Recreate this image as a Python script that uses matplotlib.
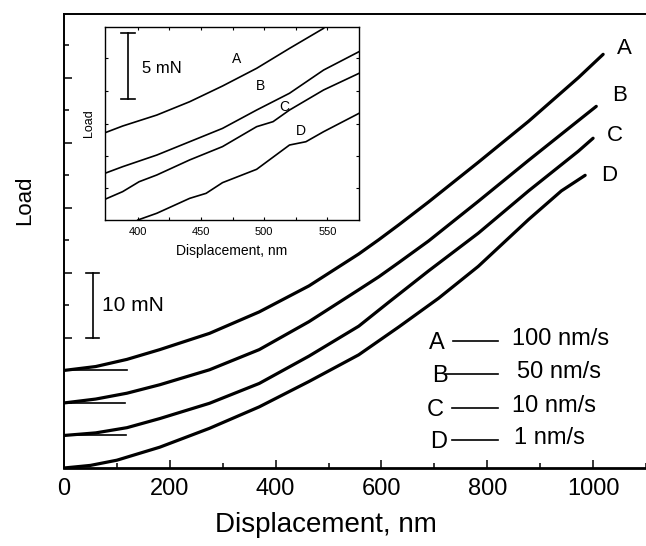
import matplotlib
matplotlib.use("Agg")
import matplotlib.pyplot as plt

plt.rcParams['font.family'] = ['Liberation Sans', 'DejaVu Sans']

# ---- main chart data (Displacement nm, Load mN, curves offset for clarity) ----
a_x = [0, 60, 119, 181, 275, 369, 463, 557, 595, 633, 689, 783, 878, 972, 1019]
a_y = [15, 15.6, 16.7, 18.2, 20.7, 24.0, 28.0, 32.9, 35.1, 37.4, 40.9, 47.0, 53.3, 60.0, 63.6]
b_x = [0, 60, 119, 181, 275, 369, 463, 557, 595, 633, 689, 783, 878, 972, 1006]
b_y = [10, 10.6, 11.5, 12.8, 15.1, 18.2, 22.5, 27.4, 29.4, 31.6, 34.9, 41.0, 47.3, 53.4, 55.6]
c_x = [0, 60, 119, 181, 275, 369, 463, 557, 614, 689, 783, 878, 972, 1000]
c_y = [5, 5.4, 6.2, 7.6, 9.95, 13.0, 17.2, 21.8, 25.5, 30.3, 36.1, 42.6, 48.7, 50.7]
d_x = [0, 50, 100, 181, 275, 369, 463, 557, 633, 708, 783, 878, 940, 985]
d_y = [0, 0.4, 1.2, 3.2, 6.1, 9.4, 13.3, 17.4, 21.7, 26.1, 31.0, 38.2, 42.6, 45.0]
curve_names = ['A', 'B', 'C', 'D']
rates = ['100 nm/s', '50 nm/s', '10 nm/s', '1 nm/s']
base_levels = [15, 10, 5]
base_ends = [120, 115, 118]

# ---- inset data ----
ia_x = [374, 388, 415, 441, 467, 494, 520, 547]
ia_y = [6.61, 7.12, 7.95, 8.96, 10.15, 11.49, 13.0, 14.52]
ib_x = [374, 388, 415, 441, 467, 494, 520, 547, 575]
ib_y = [3.54, 4.04, 4.92, 5.93, 6.94, 8.33, 9.60, 11.36, 12.75]
ic_x = [374, 388, 401, 415, 441, 467, 494, 507, 520, 547, 575]
ic_y = [1.57, 2.15, 2.90, 3.41, 4.55, 5.56, 7.07, 7.45, 8.33, 9.85, 11.11]
id_x = [400, 415, 441, 454, 467, 494, 520, 533, 547, 575]
id_y = [0.0, 0.51, 1.64, 2.02, 2.83, 3.84, 5.68, 5.93, 6.69, 8.08]

fig = plt.figure(figsize=(6.46, 5.46), dpi=100)
ax = fig.add_axes([64/646, 1-468/546, 582/646, 454/546])

for xs, ys in [(a_x, a_y), (b_x, b_y), (c_x, c_y), (d_x, d_y)]:
    ax.plot(xs, ys, color='black', lw=2.3, solid_capstyle='round', solid_joinstyle='round')
for lvl, end in zip(base_levels, base_ends):
    ax.plot([0, end], [lvl, lvl], color='black', lw=1.2)

ax.set_xlim(0, 1096)
ax.set_ylim(0, 69.8)
ax.set_xticks([0, 200, 400, 600, 800, 1000])
ax.set_xticks([100, 300, 500, 700, 900, 1100], minor=True)
ax.set_yticks([10, 20, 30, 40, 50, 60])
ax.set_yticks([5, 15, 25, 35, 45, 55, 65], minor=True)
ax.set_yticklabels([])
ax.tick_params(which='both', direction='in', width=1.1, labelsize=17, pad=7)
ax.tick_params(which='major', length=6)
ax.tick_params(which='minor', length=3.5)
ax.spines['right'].set_visible(False)
for s in ['left', 'top']:
    ax.spines[s].set_linewidth(1.4)
ax.spines['bottom'].set_linewidth(2.0)

ax.set_xlabel('Displacement, nm', fontsize=20)
ax.xaxis.set_label_coords(0.45, -0.097)
ax.set_ylabel('Load', fontsize=16)
ax.yaxis.set_label_coords(-0.05, 0.59)

# curve end labels
end_label_pos = [(1060, 64.5), (1050, 57.3), (1042, 51.1), (1030, 45.0)]
for name, (x, y) in zip(curve_names, end_label_pos):
    ax.text(x, y, name, fontsize=16, ha='center', va='center')

# legend-like annotation
leg_rows = [19.5, 14.5, 9.2, 4.3]
leg_letter_x = [704, 710, 702, 708]
leg_line_start = [736, 721, 733, 733]
leg_text_x = [847, 857, 847, 851]
for name, rate, y, lx, ls, tx in zip(curve_names, rates, leg_rows, leg_letter_x, leg_line_start, leg_text_x):
    ax.text(lx, y - 0.3, name, fontsize=17, ha='center', va='center')
    ax.plot([ls, 821], [y, y], color='black', lw=1.2)
    ax.text(tx, y + 0.3, rate, fontsize=17, ha='left', va='center')

# scale bar 10 mN
ax.plot([55, 55], [20, 30], color='black', lw=1.2)
ax.plot([41, 67], [20, 20], color='black', lw=1.2)
ax.plot([41, 67], [30, 30], color='black', lw=1.2)
ax.text(72, 25, '10 mN', fontsize=15, ha='left', va='center')

# ---- inset ----
ins = fig.add_axes([105/646, 1-220/546, 254/646, 193/546])
for xs, ys in [(ia_x, ia_y), (ib_x, ib_y), (ic_x, ic_y), (id_x, id_y)]:
    ins.plot(xs, ys, color='black', lw=1.2, solid_joinstyle='round')
ins.set_xlim(374, 575)
ins.set_ylim(0, 14.62)
ins.set_xticks([400, 450, 500, 550])
ins.set_xticks([425, 475, 525], minor=True)
ins.set_yticks([2.4, 4.85, 7.3, 9.8, 12.25])
ins.set_yticklabels([])
ins.tick_params(which='both', direction='in', length=2.5, width=0.8, labelsize=8, pad=5,
                top=True, right=True)
for s in ins.spines.values():
    s.set_linewidth(1.0)
ins.set_xlabel('Displacement, nm', fontsize=10, labelpad=5)
ins.set_ylabel('Load', fontsize=9, labelpad=2)

inset_label_pos = [(478, 12.2), (497, 10.15), (516, 8.54), (529, 6.77)]
for name, (x, y) in zip(curve_names, inset_label_pos):
    ins.text(x, y, name, fontsize=10, ha='center', va='center')

ins.plot([392, 392], [9.14, 14.14], color='black', lw=1.2)
ins.plot([387, 397.5], [9.14, 9.14], color='black', lw=1.2)
ins.plot([387, 397.5], [14.14, 14.14], color='black', lw=1.2)
ins.text(403, 11.5, '5 mN', fontsize=12, ha='left', va='center')

fig.savefig('out.png', dpi=100)
